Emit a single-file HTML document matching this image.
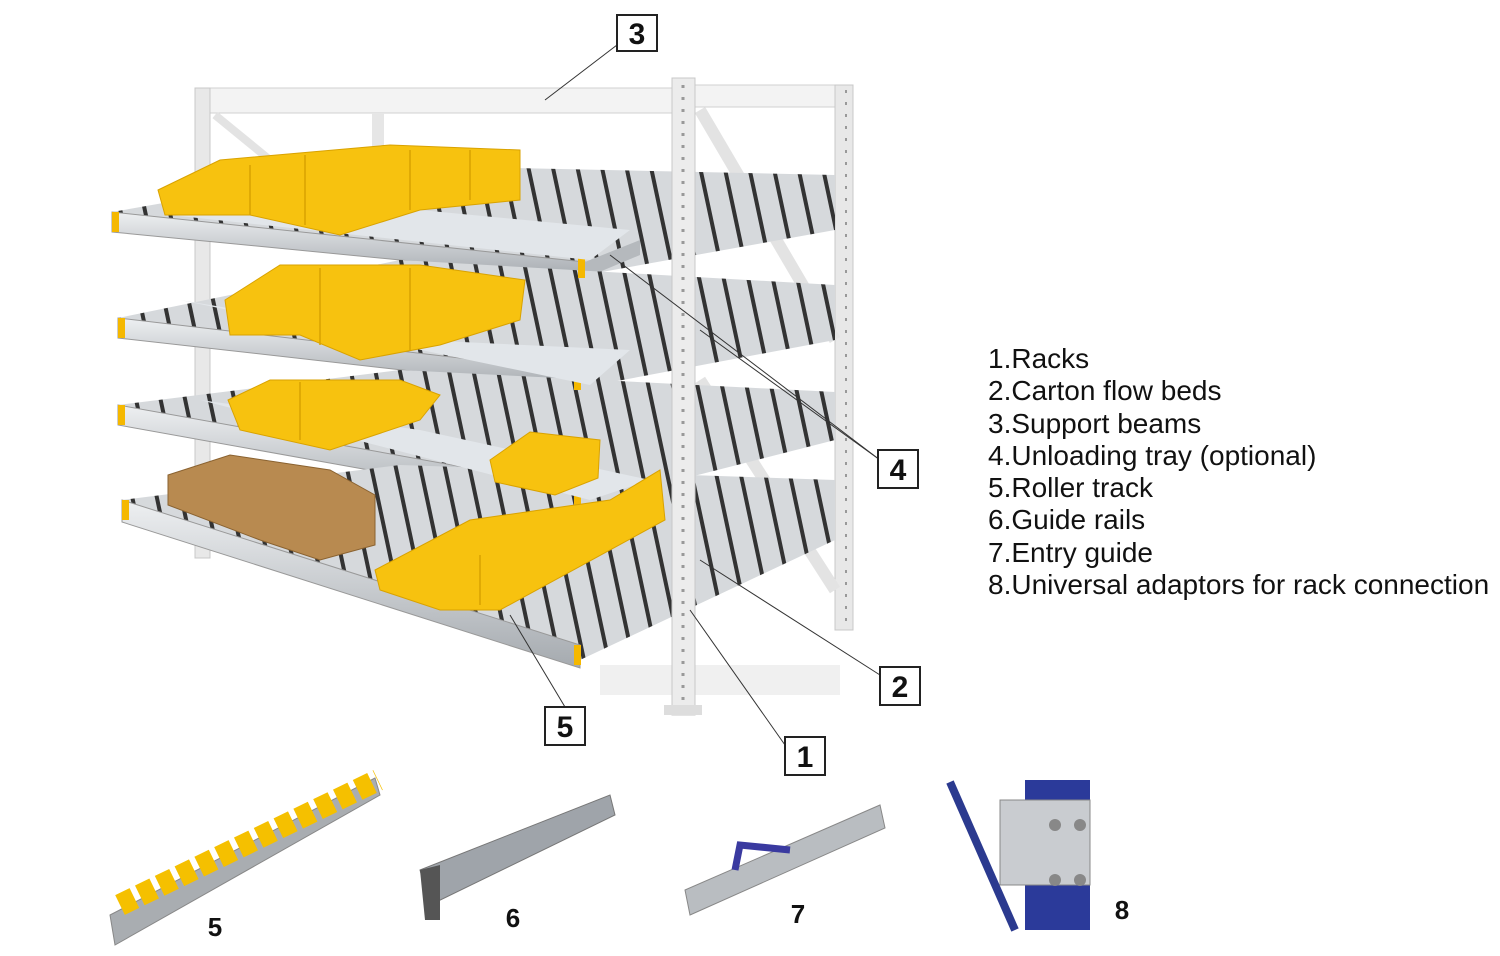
<!DOCTYPE html>
<html><head><meta charset="utf-8"><style>
html,body{margin:0;padding:0;background:#fff;width:1500px;height:956px;overflow:hidden}
.t{font-family:"Liberation Sans",sans-serif}
</style></head><body>
<svg width="1500" height="956" viewBox="0 0 1500 956" xmlns="http://www.w3.org/2000/svg">
<defs>
<pattern id="rl" width="24" height="10" patternUnits="userSpaceOnUse" patternTransform="rotate(-12)">
<rect width="24" height="10" fill="#d6d9dc"/><rect x="0" y="0" width="4" height="10" fill="#333"/></pattern>
<linearGradient id="rail" x1="0" y1="0" x2="0" y2="1"><stop offset="0" stop-color="#eef0f2"/><stop offset="1" stop-color="#a5aaaf"/></linearGradient>
</defs>
<rect x="195" y="88" width="485" height="25" fill="#f3f3f3" stroke="#d0d0d0"/>
<rect x="695" y="85" width="155" height="22" fill="#f3f3f3" stroke="#d0d0d0"/>
<rect x="195" y="88" width="15" height="470" fill="#e8e8e8" stroke="#c8c8c8"/>
<rect x="372" y="113" width="12" height="40" fill="#e6e6e6"/>
<rect x="835" y="85" width="18" height="545" fill="#e8e8e8" stroke="#c8c8c8"/>
<line x1="700" y1="110" x2="835" y2="340" stroke="#e3e3e3" stroke-width="12"/>
<line x1="700" y1="380" x2="835" y2="590" stroke="#e3e3e3" stroke-width="12"/>
<line x1="215" y1="115" x2="270" y2="160" stroke="#e3e3e3" stroke-width="8"/>
<rect x="600" y="665" width="240" height="30" fill="#f0f0f0"/>
<g>
<polygon points="112,212 380,165 835,175 835,230 585,275" fill="url(#rl)"/>
<polygon points="112,212 585,262 585,278 112,232" fill="url(#rail)" stroke="#999"/>
<polygon points="585,262 640,240 640,255 585,278" fill="#b5b9bd"/>
<polygon points="118,318 400,260 835,285 835,340 580,388" fill="url(#rl)"/>
<polygon points="118,318 580,372 580,390 118,338" fill="url(#rail)" stroke="#999"/>
<polygon points="118,405 400,370 835,392 835,440 580,505" fill="url(#rl)"/>
<polygon points="118,405 580,488 580,508 118,425" fill="url(#rail)" stroke="#999"/>
<polygon points="122,500 400,465 835,480 835,540 580,660" fill="url(#rl)"/>
<polygon points="122,500 580,645 580,668 122,522" fill="url(#rail)" stroke="#999"/>
<rect x="112" y="212" width="7" height="20" fill="#f5b800"/><rect x="578" y="258" width="7" height="20" fill="#f5b800"/>
<rect x="118" y="318" width="7" height="20" fill="#f5b800"/><rect x="574" y="370" width="7" height="20" fill="#f5b800"/>
<rect x="118" y="405" width="7" height="20" fill="#f5b800"/><rect x="574" y="488" width="7" height="20" fill="#f5b800"/>
<rect x="122" y="500" width="7" height="20" fill="#f5b800"/><rect x="574" y="645" width="7" height="20" fill="#f5b800"/>
<polygon points="170,215 420,210 630,230 590,260" fill="#e2e6ea"/>
<polygon points="180,300 420,340 630,350 590,385" fill="#e2e6ea"/>
<polygon points="200,400 420,430 650,480 590,500" fill="#e2e6ea"/>
</g>
<g fill="#f7c20f" stroke="#d9a200">
<polygon points="158,190 220,160 390,145 520,150 520,200 420,210 340,235 250,215 165,215"/>
<polygon points="225,300 280,265 420,265 525,280 520,320 440,345 360,360 300,335 230,335"/>
<polygon points="228,400 270,380 400,380 440,395 420,420 330,450 240,430"/>
<polygon points="490,460 530,432 600,440 598,478 555,495 495,482"/>
<polygon points="375,570 470,520 610,500 660,470 665,520 500,610 440,610 380,590"/>
</g>
<g stroke="#d9a200" stroke-width="1.5">
<line x1="250" y1="165" x2="250" y2="215"/><line x1="305" y1="155" x2="305" y2="225"/><line x1="410" y1="150" x2="410" y2="210"/><line x1="470" y1="150" x2="470" y2="200"/>
<line x1="320" y1="268" x2="320" y2="345"/><line x1="410" y1="268" x2="410" y2="350"/>
<line x1="300" y1="382" x2="300" y2="440"/><line x1="480" y1="555" x2="480" y2="605"/>
</g>
<g fill="#b88a50" stroke="#8a6230">
<polygon points="168,475 230,455 330,470 375,495 375,545 320,560 260,540 168,505"/>
</g>
<rect x="672" y="78" width="23" height="637" fill="#ececec" stroke="#c8c8c8"/>
<line x1="683" y1="85" x2="683" y2="710" stroke="#999" stroke-width="3" stroke-dasharray="3 9"/>
<line x1="846" y1="90" x2="846" y2="625" stroke="#999" stroke-width="2" stroke-dasharray="3 9"/>
<rect x="664" y="705" width="38" height="10" fill="#ddd"/>
<g stroke="#333" stroke-width="1" fill="none">
<line x1="617" y1="45" x2="545" y2="100"/>
<line x1="880" y1="460" x2="610" y2="255"/>
<line x1="880" y1="460" x2="700" y2="330"/>
<line x1="880" y1="675" x2="700" y2="560"/>
<line x1="785" y1="745" x2="690" y2="610"/>
<line x1="565" y1="707" x2="510" y2="615"/>
</g>
<g fill="#fff" stroke="#222" stroke-width="2">
<rect x="617" y="15" width="40" height="36"/><rect x="878" y="450" width="40" height="38"/>
<rect x="880" y="667" width="40" height="38"/><rect x="545" y="707" width="40" height="38"/>
<rect x="785" y="737" width="40" height="38"/>
</g>
<g class="t" font-size="30" font-weight="bold" fill="#111" text-anchor="middle">
<text x="637" y="44">3</text><text x="898" y="480">4</text><text x="900" y="697">2</text>
<text x="565" y="737">5</text><text x="805" y="767">1</text>
</g>
<g class="t" font-size="28" fill="#111">
<text x="988" y="368">1.Racks</text><text x="988" y="400">2.Carton flow beds</text>
<text x="988" y="433">3.Support beams</text><text x="988" y="465">4.Unloading tray (optional)</text>
<text x="988" y="497">5.Roller track</text><text x="988" y="529">6.Guide rails</text>
<text x="988" y="562">7.Entry guide</text><text x="988" y="594">8.Universal adaptors for rack connection</text>
</g>
<polygon points="110,915 375,778 380,795 115,945" fill="#a9adb1" stroke="#888"/>
<line x1="120" y1="905" x2="378" y2="780" stroke="#f5c000" stroke-width="22" stroke-dasharray="16 6"/>
<polygon points="420,870 610,795 615,815 430,905" fill="#9fa4aa" stroke="#777"/>
<polygon points="420,870 440,865 440,920 425,920" fill="#555"/>
<polygon points="685,890 880,805 885,828 690,915" fill="#b9bdc1" stroke="#888"/>
<path d="M735 870 L740 845 L790 850" stroke="#3a3aa0" stroke-width="7" fill="none"/>
<line x1="950" y1="782" x2="1015" y2="930" stroke="#2b3a8f" stroke-width="8"/>
<rect x="1025" y="780" width="65" height="150" fill="#2b3a9a"/>
<rect x="1000" y="800" width="90" height="85" fill="#c9ccd0" stroke="#888"/>
<g fill="#888"><circle cx="1055" cy="825" r="6"/><circle cx="1080" cy="825" r="6"/><circle cx="1055" cy="880" r="6"/><circle cx="1080" cy="880" r="6"/></g>
<g class="t" font-size="26" font-weight="bold" fill="#111" text-anchor="middle">
<text x="215" y="936">5</text><text x="513" y="927">6</text><text x="798" y="923">7</text><text x="1122" y="919">8</text>
</g>
</svg>
</body></html>
